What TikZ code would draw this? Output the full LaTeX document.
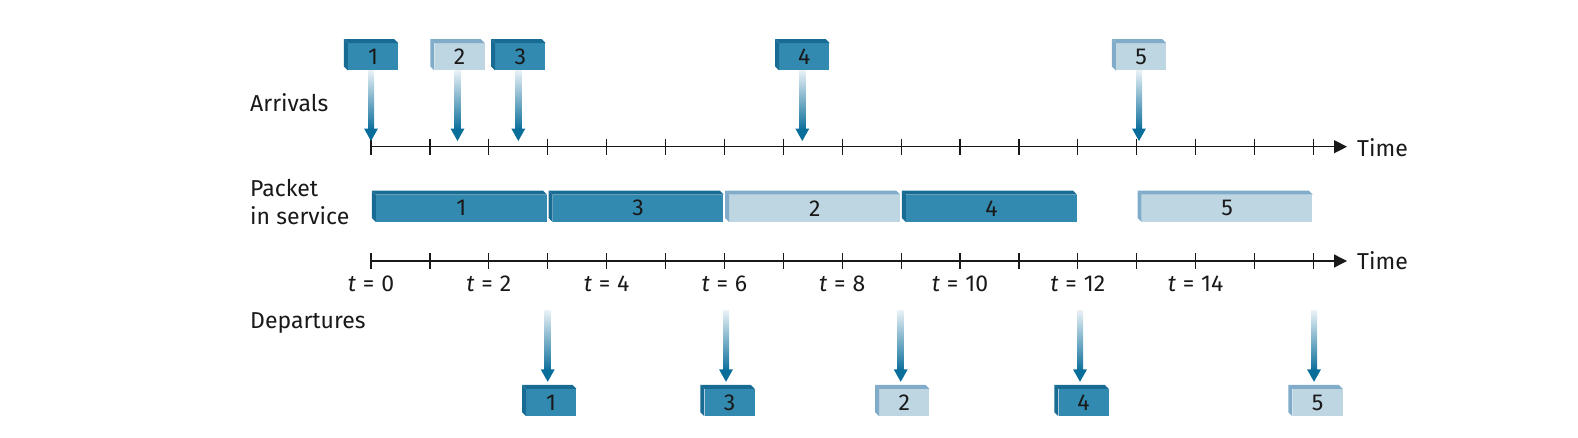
\documentclass[tikz,border=0pt]{standalone}
\usepackage{fontspec}
\setmainfont{Fira Sans}
\usetikzlibrary{arrows.meta,calc}
\definecolor{dkfront}{RGB}{51,138,176}
\definecolor{dkside}{RGB}{24,108,148}
\definecolor{ltfront}{RGB}{190,213,226}
\definecolor{ltside}{RGB}{128,172,202}
\definecolor{arrtop}{RGB}{232,241,246}
\definecolor{arrmid}{RGB}{95,158,192}
\definecolor{arrbot}{RGB}{10,110,155}
\definecolor{ink}{RGB}{25,25,25}
\tikzset{
  pkt/.style={inner sep=0pt, minimum height=27pt, text=ink, font=\fontsize{23}{26}\selectfont},
  dk/.style={pkt, fill=dkfront},
  lt/.style={pkt, fill=ltfront},
  lbl/.style={anchor=base west, text=ink, font=\fontsize{23}{26}\selectfont, inner sep=0pt},
  tlbl/.style={anchor=base, text=ink, font=\fontsize{23}{26}\selectfont, inner sep=0pt},
  axisline/.style={draw=ink, line width=1.3pt, -{Triangle[length=13pt,width=13pt]}},
  tickmark/.style={draw=ink, line width=1.2pt}
}
\newcommand\pk[7]{%
  \node[#2, minimum width=#6pt] (#1) at (#4,#5) {#7};
  \fill[#3] (#1.north west) -- ++(-4pt,4pt) -- ($(#1.north east)+(-4pt,4pt)$) -- (#1.north east) -- cycle;
  \fill[#3] (#1.north west) -- ++(-4pt,4pt) -- ($(#1.south west)+(-4pt,4pt)$) -- (#1.south west) -- cycle;
}
\newcommand\garrow[2]{%
  \shade[top color=arrtop, middle color=arrmid, bottom color=arrbot] let \p1=#1, \p2=#2 in (\x2-3pt,\y1) rectangle (\x2+3pt,\y2+11pt);
  \fill[arrbot] let \p2=#2 in (\x2,\y2) -- (\x2-7pt,\y2+12.5pt) -- (\x2+7pt,\y2+12.5pt) -- cycle;
}
\begin{document}
\begin{tikzpicture}[x=1pt,y=-1pt]
\useasboundingbox (0,0) rectangle (1578,437);
% labels
\node[lbl] (arr) at (250,111) {Arrivals};
\node[lbl] (pis1) at (250,196.7) {Packet};
\node[lbl] (pis2) at (250,224.3) {in service};
\node[lbl] (dep) at (250,328.3) {Departures};
% axes
\coordinate (ax1s) at (371,146.7);
\coordinate (ax1e) at (1347,146.7);
\coordinate (ax2s) at (371,261);
\coordinate (ax2e) at (1347,261);
\draw[axisline] (ax1s) -- (ax1e);
\draw[axisline] (ax2s) -- (ax2e);
\node[lbl] (time1) at (1357,156) {Time};
\node[lbl] (time2) at (1357,269.3) {Time};
\foreach \k in {0,...,16}{
  \draw[tickmark] ({371+58.9*\k},138.7) -- ({371+58.9*\k},154.7);
  \draw[tickmark] ({371+58.9*\k},253) -- ({371+58.9*\k},269);
}
\foreach \k in {0,2,...,14}{
  \node[tlbl] (tl\k) at ({371+58.9*\k},291) {\textit{t}\hspace{0.3em}=\hspace{0.3em}\k};
}
% arrivals
\pk{a1}{dk}{dkside}{373}{56.7}{50}{1}
\pk{a2}{lt}{ltside}{459.5}{56.7}{50}{2}
\pk{a3}{dk}{dkside}{520.3}{56.7}{50}{3}
\pk{a4}{dk}{dkside}{804.3}{56.7}{50}{4}
\pk{a5}{lt}{ltside}{1141}{56.7}{50}{5}
\coordinate (ta1) at (371,146.7);
\coordinate (ta2) at (457.5,146.7);
\coordinate (ta3) at (518.3,146.7);
\coordinate (ta4) at (802.3,146.7);
\coordinate (ta5) at (1139,146.7);
\foreach \i in {1,...,5}{
  \garrow{(a\i.south)}{($(ta\i)+(0pt,5.7pt)$)}
}
% packets in service
\pk{s1}{dk}{dkside}{461.35}{208.3}{170.7}{1}
\pk{s3}{dk}{dkside}{638.05}{208.3}{170.7}{3}
\pk{s2}{lt}{ltside}{814.75}{208.3}{170.7}{2}
\pk{s4}{dk}{dkside}{991.45}{208.3}{170.7}{4}
\pk{s5}{lt}{ltside}{1227.05}{208.3}{170.7}{5}
% departures
\pk{d1}{dk}{dkside}{551.2}{402.5}{50}{1}
\pk{d3}{dk}{dkside}{729.5}{402.5}{50}{3}
\pk{d2}{lt}{ltside}{904.2}{402.5}{50}{2}
\pk{d4}{dk}{dkside}{1083.5}{402.5}{50}{4}
\pk{d5}{lt}{ltside}{1317.5}{402.5}{50}{5}
\coordinate (sd1) at (547.7,310.7);
\coordinate (sd3) at (726,310.7);
\coordinate (sd2) at (900.7,310.7);
\coordinate (sd4) at (1080,310.7);
\coordinate (sd5) at (1314,310.7);
\foreach \i in {1,...,5}{
  \garrow{(sd\i)}{($(sd\i |- d\i.north)+(0pt,7pt)$)}
}
\end{tikzpicture}
\end{document}
